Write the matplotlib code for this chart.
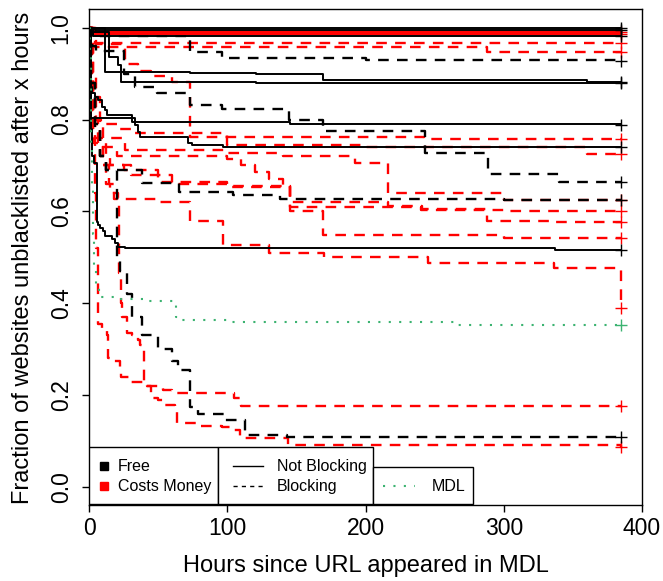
import matplotlib
matplotlib.use('Agg')
import matplotlib.pyplot as plt
from matplotlib.patches import Rectangle

plt.rcParams['font.family'] = ['Liberation Sans', 'DejaVu Sans']

# Horas (t) y fraccion no bloqueada (s) de cada curva
# Free / Not Blocking (negro, continua)
t_fs1 = [0, 385]
s_fs1 = [1.0, 1.0]
t_fs2 = [0, 4, 385]
s_fs2 = [1.0, 0.996, 0.996]
t_fs3 = [0, 3, 385]
s_fs3 = [1.0, 0.982, 0.982]
t_fs4 = [0, 11.4, 73, 121, 169, 360, 385]
s_fs4 = [1.0, 0.904, 0.902, 0.899, 0.886, 0.882, 0.882]
t_fs5 = [0, 1, 14.3, 20.8, 23, 121, 385]
s_fs5 = [1.0, 0.99, 0.937, 0.919, 0.882, 0.879, 0.879]
t_fs6 = [0, 1, 30.7, 145, 385]
s_fs6 = [1.0, 0.803, 0.795, 0.79, 0.788]
t_fs7 = [0, 1.2, 1.7, 4.1, 6.5, 9, 11.4, 12.6, 30.7, 33, 35.5, 36.6, 71.6, 74, 96.7, 385]
s_fs7 = [1.0, 0.87, 0.857, 0.85, 0.843, 0.828, 0.82, 0.81, 0.803, 0.788, 0.774, 0.762, 0.748, 0.744, 0.741, 0.741]
t_fs8 = [0, 0.6, 1.2, 2, 3.5, 5.4, 6.6, 7.8, 10, 11.4, 16.2, 18.6, 21, 25.8, 337, 385]
s_fs8 = [1.0, 0.9, 0.78, 0.72, 0.705, 0.577, 0.57, 0.565, 0.557, 0.546, 0.539, 0.531, 0.523, 0.521, 0.517, 0.517]

# Free / Blocking (negro, discontinua)
t_fd1 = [0, 3, 73, 96, 200, 385]
s_fd1 = [1.0, 0.982, 0.948, 0.935, 0.93, 0.928]
t_fd2 = [0, 2, 5, 25, 33, 48.8, 73, 96, 144.6, 169, 243, 288.5, 340, 385]
s_fd2 = [1.0, 0.96, 0.95, 0.9, 0.87, 0.857, 0.832, 0.824, 0.799, 0.775, 0.728, 0.681, 0.664, 0.664]
t_fd3 = [0, 1.5, 4, 8, 12, 38, 65, 104, 138, 300, 385]
s_fd3 = [1.0, 0.88, 0.78, 0.72, 0.69, 0.662, 0.643, 0.635, 0.628, 0.625, 0.625]
t_fd4 = [0, 1.5, 4, 8, 12, 20, 22, 27, 31, 38, 50, 60, 64, 73, 79, 98, 113, 143, 385]
s_fd4 = [1.0, 0.88, 0.79, 0.72, 0.69, 0.50, 0.47, 0.42, 0.37, 0.33, 0.30, 0.275, 0.254, 0.175, 0.16, 0.145, 0.113, 0.108, 0.108]

# Costs Money / Not Blocking (rojo, continua)
t_cs1 = [0, 2, 385]
s_cs1 = [1.0, 0.99, 0.99]
t_cs2 = [0, 1, 385]
s_cs2 = [1.0, 0.986, 0.986]

# Costs Money / Blocking (rojo, discontinua)
t_cd1 = [0, 4, 385]
s_cd1 = [1.0, 0.967, 0.967]
t_cd2 = [0, 3, 288, 385]
s_cd2 = [1.0, 0.958, 0.947, 0.947]
t_cd3 = [0, 5, 26, 35, 45, 60, 73, 242, 385]
s_cd3 = [1.0, 0.965, 0.92, 0.905, 0.895, 0.882, 0.762, 0.757, 0.757]
t_cd4 = [0, 1.5, 3, 21, 33, 100, 200, 360, 385]
s_cd4 = [1.0, 0.85, 0.79, 0.78, 0.77, 0.745, 0.74, 0.725, 0.725]
t_cd5 = [0, 1.5, 4, 26, 100, 140, 192, 216, 300, 385]
s_cd5 = [1.0, 0.83, 0.76, 0.733, 0.728, 0.72, 0.706, 0.64, 0.625, 0.625]
t_cd6 = [0, 2, 6, 20, 100, 110, 120, 130, 140, 145, 240, 300, 385]
s_cd6 = [1.0, 0.8, 0.74, 0.72, 0.715, 0.70, 0.685, 0.67, 0.655, 0.61, 0.603, 0.601, 0.601]
t_cd7 = [0, 2, 8, 15, 30, 60, 100, 145, 216, 241, 288, 336, 385]
s_cd7 = [1.0, 0.78, 0.72, 0.70, 0.68, 0.66, 0.653, 0.62, 0.612, 0.605, 0.58, 0.577, 0.577]
t_cd8 = [0, 3, 10, 25, 50, 100, 145, 169, 300, 385]
s_cd8 = [1.0, 0.75, 0.70, 0.69, 0.665, 0.655, 0.60, 0.548, 0.543, 0.543]
t_cd9 = [0, 2, 5, 10, 14, 18, 50, 73, 97, 130, 170, 245, 336, 385, 385]
s_cd9 = [1.0, 0.9, 0.8, 0.7, 0.66, 0.627, 0.621, 0.58, 0.526, 0.51, 0.50, 0.487, 0.476, 0.474, 0.389]
t_cd10 = [0, 3, 8, 12, 15, 21, 21.5, 23, 24, 27, 31, 35, 37, 39, 39.5, 42, 53, 60, 105, 110, 385]
s_cd10 = [1.0, 0.85, 0.75, 0.66, 0.64, 0.63, 0.465, 0.40, 0.37, 0.335, 0.33, 0.32, 0.31, 0.30, 0.228, 0.22, 0.212, 0.205, 0.193, 0.176, 0.176]
t_cd11 = [0, 2, 3, 4, 5, 6, 9, 13, 13.5, 18, 22, 23, 30, 40, 45, 50, 55, 62, 63.5, 78, 96, 103, 109, 144, 385]
s_cd11 = [1.0, 0.90, 0.78, 0.64, 0.52, 0.356, 0.34, 0.33, 0.28, 0.275, 0.26, 0.24, 0.228, 0.22, 0.195, 0.19, 0.178, 0.167, 0.139, 0.134, 0.13, 0.124, 0.106, 0.091, 0.087]

# MDL (verde, punteada)
t_mdl = [0, 0.5, 1, 1.5, 2, 2.5, 3.5, 5, 7, 20, 40, 62, 62.5, 64, 100, 266, 385]
s_mdl = [1.0, 0.95, 0.85, 0.75, 0.65, 0.55, 0.48, 0.44, 0.413, 0.41, 0.405, 0.40, 0.37, 0.363, 0.36, 0.352, 0.352]

negro_cont = [(t_fs1, s_fs1), (t_fs2, s_fs2), (t_fs3, s_fs3), (t_fs4, s_fs4),
              (t_fs5, s_fs5), (t_fs6, s_fs6), (t_fs7, s_fs7), (t_fs8, s_fs8)]
negro_disc = [(t_fd1, s_fd1), (t_fd2, s_fd2), (t_fd3, s_fd3), (t_fd4, s_fd4)]
rojo_cont = [(t_cs1, s_cs1), (t_cs2, s_cs2)]
rojo_disc = [(t_cd1, s_cd1), (t_cd2, s_cd2), (t_cd3, s_cd3), (t_cd4, s_cd4),
             (t_cd5, s_cd5), (t_cd6, s_cd6), (t_cd7, s_cd7), (t_cd8, s_cd8),
             (t_cd9, s_cd9), (t_cd10, s_cd10), (t_cd11, s_cd11)]

VERDE = '#3CB371'
DISC = (0, (4.5, 3.5))
PUNT = (0, (1, 4))

fig = plt.figure(figsize=(6.63, 5.81), dpi=100)
ax = fig.add_axes([0.1347, 0.13, 0.8336, 0.854])


def curva(t, s, color, ls, lw):
    ax.step(t, s, where='post', color=color, linestyle=ls, linewidth=lw)
    ax.plot(t[-1], s[-1], marker='+', ms=8, mew=1, color=color)


for t, s in rojo_disc:
    curva(t, s, 'red', DISC, 1.7)
for t, s in negro_disc:
    curva(t, s, 'black', DISC, 1.7)
for t, s in rojo_cont:
    curva(t, s, 'red', '-', 1.6)
for t, s in negro_cont:
    curva(t, s, 'black', '-', 1.4)
curva(t_mdl, s_mdl, VERDE, PUNT, 1.5)

ax.set_xlim(0, 400)
ax.set_ylim(-0.04, 1.04)
ax.set_xticks([0, 100, 200, 300, 400])
ax.set_yticks([0.0, 0.2, 0.4, 0.6, 0.8, 1.0])
ax.set_yticklabels(['0.0', '0.2', '0.4', '0.6', '0.8', '1.0'])
ax.tick_params(axis='both', labelsize=16.5, length=5, width=1, direction='out')
ax.tick_params(axis='x', pad=3.4)
ax.tick_params(axis='y', pad=7)
plt.setp(ax.get_yticklabels(), rotation=90, va='center')
for sp in ax.spines.values():
    sp.set_linewidth(1)

ax.set_xlabel('Hours since URL appeared in MDL', fontsize=17)
ax.set_ylabel('Fraction of websites unblacklisted after x hours', fontsize=17)
ax.xaxis.set_label_coords(0.5, -0.1)
ax.yaxis.set_label_coords(-0.1, 0.5)

# Leyendas en cajas, como en R
cajas = [(0, -0.0377, 93.5, 0.1242), (93.5, -0.0377, 111.8, 0.1242), (205.3, -0.0377, 72.4, 0.0807)]
for x0, y0, w, h in cajas:
    ax.add_patch(Rectangle((x0, y0), w, h, facecolor='white', edgecolor='black',
                           linewidth=1, zorder=5))

ax.plot([10.7], [0.045], marker='s', ms=5.5, color='black', zorder=6)
ax.plot([10.7], [0.0015], marker='s', ms=5.5, color='red', zorder=6)
ax.text(20.5, 0.045, 'Free', fontsize=11.5, va='center', zorder=6)
ax.text(20.5, 0.0015, 'Costs Money', fontsize=11.5, va='center', zorder=6)

ax.plot([104, 125.7], [0.045, 0.045], color='black', lw=1, zorder=6)
ax.plot([104, 125.7], [0.0015, 0.0015], color='black', lw=1, linestyle=(0, (3, 3)), zorder=6)
ax.text(135.7, 0.045, 'Not Blocking', fontsize=11.5, va='center', zorder=6)
ax.text(135.7, 0.0015, 'Blocking', fontsize=11.5, va='center', zorder=6)

ax.plot([212.5, 235.7], [0.0015, 0.0015], color=VERDE, lw=1.5, linestyle=PUNT, zorder=6)
ax.text(248, 0.0015, 'MDL', fontsize=11.5, va='center', zorder=6)

fig.savefig('out.png', dpi=100)
